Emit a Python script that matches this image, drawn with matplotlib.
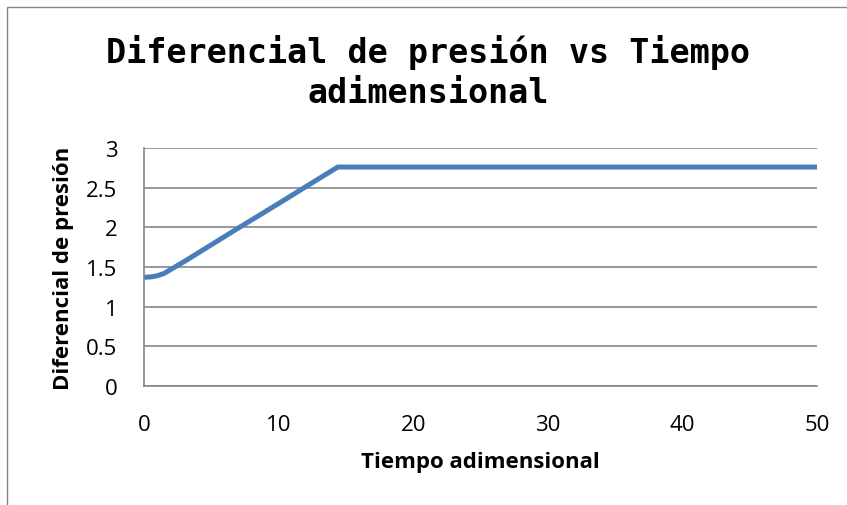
import matplotlib
matplotlib.use("Agg")
import matplotlib.pyplot as plt
from matplotlib.patches import Rectangle

# Data
tiempo = [0, 0.5, 1, 1.5, 2, 3, 5, 7, 10, 12, 14.4, 20, 30, 40, 50]
diferencial = [1.37, 1.375, 1.39, 1.42, 1.47, 1.57, 1.78, 1.99, 2.30, 2.51, 2.76, 2.76, 2.76, 2.76, 2.76]
x_ticks = [0, 10, 20, 30, 40, 50]
y_ticks = [0, 0.5, 1, 1.5, 2, 2.5, 3]
y_tick_labels = ["0", "0.5", "1", "1.5", "2", "2.5", "3"]

W, H = 847, 506
fig = plt.figure(figsize=(W / 100, H / 100), dpi=100)
ax = fig.add_axes([144 / W, 1 - 387 / H, (817 - 144) / W, (387 - 149) / H])

ax.plot(tiempo, diferencial, color="#4A7EBB", linewidth=3.6, solid_capstyle="butt", solid_joinstyle="round")
ax.set_xlim(0, 50)
ax.set_ylim(0, 3)
ax.set_xticks(x_ticks)
ax.set_yticks(y_ticks)
ax.set_yticklabels(y_tick_labels)
ax.grid(axis="y", color="#868686", linewidth=1.2)
ax.set_axisbelow(True)
for s in ["top", "right"]:
    ax.spines[s].set_visible(False)
for s in ["left", "bottom"]:
    ax.spines[s].set_color("#868686")
    ax.spines[s].set_linewidth(1.2)
ax.tick_params(length=0, labelsize=16)
for lab in ax.get_xticklabels() + ax.get_yticklabels():
    lab.set_family("Open Sans")
ax.tick_params(axis="x", pad=20)
ax.tick_params(axis="y", pad=19)

ax.set_xlabel("Tiempo adimensional", fontsize=16, fontweight="bold", family="Open Sans", labelpad=12)
ax.set_ylabel("Diferencial de presión", fontsize=16, fontweight="bold", family="Open Sans", labelpad=9)

fig.text(428 / W, 1 - 63 / H, "Diferencial de presión vs Tiempo", ha="center", va="baseline",
         fontsize=24, fontweight="bold", family="DejaVu Sans Mono")
fig.text(428 / W, 1 - 103 / H, "adimensional", ha="center", va="baseline",
         fontsize=24, fontweight="bold", family="DejaVu Sans Mono")

fig.patches.append(Rectangle((7 / W, -0.1), 1.2, 1.1 - 8 / H, transform=fig.transFigure,
                             fill=False, edgecolor="#868686", linewidth=1.0))

fig.savefig("out.png", dpi=100)
